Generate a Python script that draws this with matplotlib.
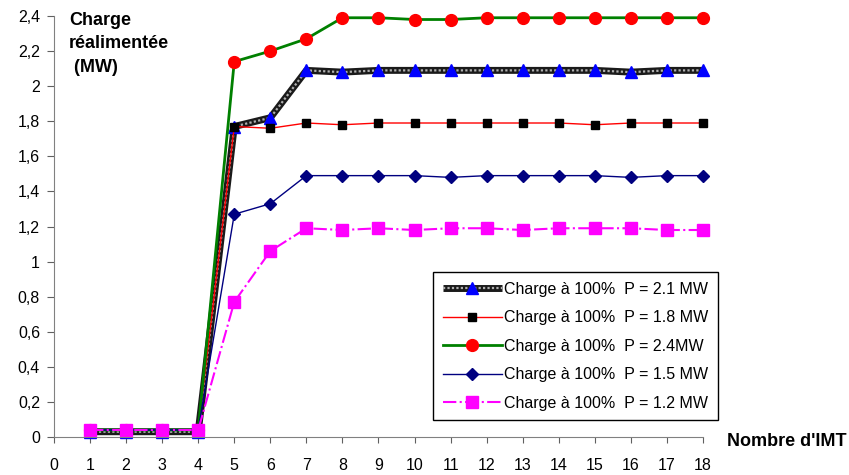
import matplotlib
matplotlib.use("Agg")
import matplotlib.pyplot as plt
from matplotlib.legend_handler import HandlerTuple

plt.rcParams['font.family'] = ['Liberation Sans', 'DejaVu Sans']
plt.rcParams['font.size'] = 11.5

imt = list(range(1, 19))
p21 = [0.03, 0.03, 0.03, 0.03, 1.77, 1.82, 2.09, 2.08, 2.09, 2.09, 2.09, 2.09, 2.09, 2.09, 2.09, 2.08, 2.09, 2.09]
p18 = [0.04, 0.04, 0.04, 0.04, 1.77, 1.76, 1.79, 1.78, 1.79, 1.79, 1.79, 1.79, 1.79, 1.79, 1.78, 1.79, 1.79, 1.79]
p24 = [0.04, 0.04, 0.04, 0.04, 2.14, 2.20, 2.27, 2.39, 2.39, 2.38, 2.38, 2.39, 2.39, 2.39, 2.39, 2.39, 2.39, 2.39]
p15 = [0.04, 0.04, 0.04, 0.04, 1.27, 1.33, 1.49, 1.49, 1.49, 1.49, 1.48, 1.49, 1.49, 1.49, 1.49, 1.48, 1.49, 1.49]
p12 = [0.04, 0.04, 0.04, 0.04, 0.77, 1.06, 1.19, 1.18, 1.19, 1.18, 1.19, 1.19, 1.18, 1.19, 1.19, 1.19, 1.18, 1.18]

labels = ["Charge à 100%  P = 2.1 MW",
          "Charge à 100%  P = 1.8 MW",
          "Charge à 100%  P = 2.4MW",
          "Charge à 100%  P = 1.5 MW",
          "Charge à 100%  P = 1.2 MW"]
yticks = [0, 0.2, 0.4, 0.6, 0.8, 1, 1.2, 1.4, 1.6, 1.8, 2, 2.2, 2.4]
ytick_labels = ["0", "0,2", "0,4", "0,6", "0,8", "1", "1,2", "1,4", "1,6", "1,8", "2", "2,2", "2,4"]

fig = plt.figure(figsize=(8.49, 4.75), dpi=100)
ax = fig.add_axes([54 / 849, 1 - 437 / 475, (703 - 54) / 849, (437 - 16) / 475])

# 2.1 MW: thick black line with a grey checker inside, blue triangles
h_a, = ax.plot(imt, p21, color='#1a1a1a', lw=5, solid_capstyle='butt', clip_on=False)
h_b, = ax.plot(imt, p21, color='#b0b0b0', lw=1.6, dashes=(1.0, 1.0), clip_on=False)
h_c, = ax.plot(imt, p21, ls='none', marker='^', ms=9, mfc='blue', mec='blue', clip_on=False)
h18, = ax.plot(imt, p18, color='red', lw=1, marker='s', ms=5.5, mfc='black', mec='black', clip_on=False)
h24, = ax.plot(imt, p24, color='green', lw=2, marker='o', ms=8.5, mfc='red', mec='red', clip_on=False)
h15, = ax.plot(imt, p15, color='navy', lw=1, marker='D', ms=6.5, mfc='navy', mec='navy', clip_on=False)
h12, = ax.plot(imt, p12, color='magenta', lw=1.5, ls='-.', marker='s', ms=8, mfc='magenta',
               mec='magenta', clip_on=False)

ax.set_xlim(0, 18)
ax.set_ylim(0, 2.4)
ax.set_xticks(range(0, 19))
ax.set_xticklabels([str(i) for i in range(0, 19)])
ax.set_yticks(yticks)
ax.set_yticklabels(ytick_labels)
ax.tick_params(axis='x', direction='out', length=4, pad=11, labelcolor='black')
ax.tick_params(axis='y', direction='out', length=5, pad=5, labelcolor='black')
for s in ['top', 'right']:
    ax.spines[s].set_visible(False)
ax.spines['left'].set_color('#808080')
ax.spines['bottom'].set_color('#808080')
ax.tick_params(color='#606060')

ax.text(15 / 649, 1.01, "Charge\nréalimentée\n (MW)", transform=ax.transAxes,
        fontweight='bold', fontsize=13, va='top', ha='left', linespacing=1.5)
fig.text(847 / 849, 1 - 442 / 475, "Nombre d'IMT", fontweight='bold', fontsize=13,
         ha='right', va='center')

leg = ax.legend([(h_a, h_b, h_c), h18, h24, h15, h12], labels,
                handler_map={tuple: HandlerTuple(ndivide=1)},
                loc='lower right', bbox_to_anchor=(1.023, 0.04), fancybox=False,
                edgecolor='black', framealpha=1, fontsize=11.5, handlelength=3.7,
                labelspacing=0.84, borderpad=0.6, handletextpad=0.15, borderaxespad=0)
leg.get_frame().set_linewidth(1)

fig.savefig("out.png", dpi=100)
